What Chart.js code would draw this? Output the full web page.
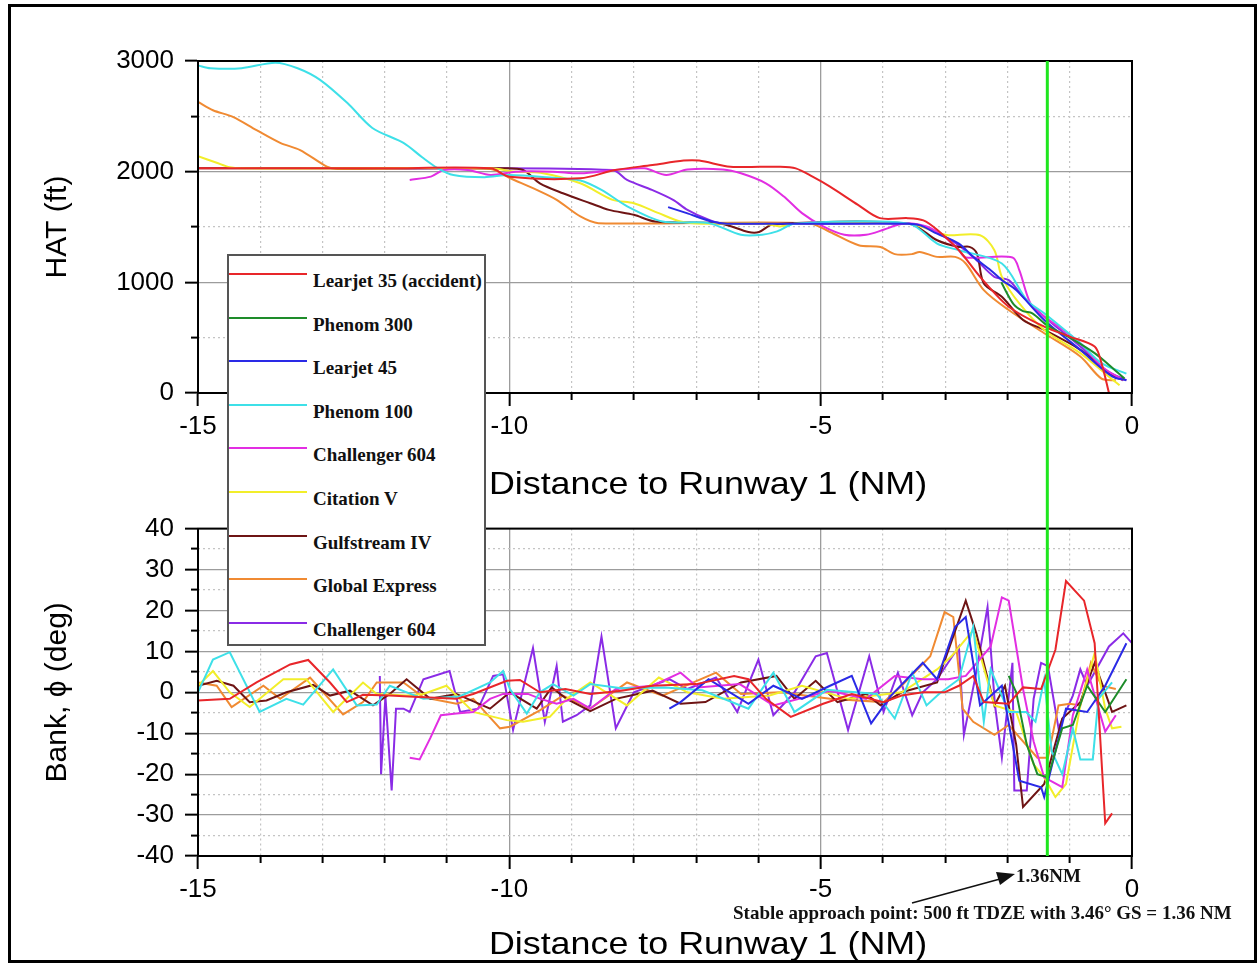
<!DOCTYPE html>
<html>
<head>
<meta charset="utf-8">
<title>HAT and bank angle vs distance to Runway 1</title>
<script src="https://cdn.jsdelivr.net/npm/chart.js@4.4.1/dist/chart.umd.min.js"></script>
<style>
  html, body { margin: 0; padding: 0; background: #fff; }
  #page { position: relative; width: 1260px; height: 966px; overflow: hidden; background: #fff; }
  #frame { position: absolute; left: 8px; top: 4px; width: 1249px; height: 959px; border: 3px solid #000; box-sizing: border-box; pointer-events: none; }
  canvas { position: absolute; left: 0; }
  #hat-chart { top: 0; }
  #bank-chart { top: 502px; }
  #legend { position: absolute; left: 227px; top: 254px; width: 259px; height: 392px; background: #fff; border: 2px solid #555; box-sizing: border-box; }
  .legend-line { position: absolute; left: 0; width: 78px; height: 0; border-top: 2px solid; }
  .legend-text { position: absolute; left: 84px; height: 22px; line-height: 22px; font: bold 19px "Liberation Serif", "Times New Roman", serif; color: #111; white-space: nowrap; }
  .note { position: absolute; font: bold 19px "Liberation Serif", "Times New Roman", serif; color: #111; white-space: nowrap; line-height: 20px; }
  .x-title { position: absolute; left: 358px; width: 700px; text-align: center; font: 32px "Liberation Sans", Arial, sans-serif; line-height: 36px; color: #000; transform: scaleX(1.12); white-space: nowrap; }
  #arrow { position: absolute; left: 0; top: 0; }
</style>
</head>
<body>
<div id="page">
  <canvas id="hat-chart" width="1260" height="502"></canvas>
  <canvas id="bank-chart" width="1260" height="464"></canvas>
  <div class="x-title" style="top:465px;">Distance to Runway 1 (NM)</div>
  <div class="x-title" style="top:925px;">Distance to Runway 1 (NM)</div>
  <div id="legend"></div>
  <svg id="arrow" width="1260" height="966">
    <line x1="912" y1="903" x2="1000" y2="879" stroke="#111" stroke-width="1.5"></line>
    <polygon points="1015,874 996,872 1000,885" fill="#111"></polygon>
  </svg>
  <div class="note" style="left:1016px; top:866px;">1.36NM</div>
  <div class="note" style="left:733px; top:903px;">Stable approach point: 500 ft TDZE with 3.46° GS = 1.36 NM</div>
  <div id="frame"></div>
</div>

<script>
// Series names and colours (legend order)
const seriesNames = ['Learjet 35 (accident)', 'Phenom 300', 'Learjet 45', 'Phenom 100',
    'Challenger 604', 'Citation V', 'Gulfstream IV', 'Global Express', 'Challenger 604'];
const seriesColors = ['#e8262a', '#1e8c2a', '#2a2ae6', '#3ee0e8',
    '#e22ee2', '#f2ee2a', '#6e1414', '#f08a32', '#8a2be6'];

// Stable approach point (NM before threshold)
const stableApproachNM = -1.36;

// HAT (ft) vs distance (NM)
const hatLearjet35 = [[-15,2030],[-12,2030],[-10.3,2030],[-10,1955],[-8.86,1940],[-8.3,2015],[-7.7,2060],[-7.2,2100],[-6.95,2100],[-6.45,2045],[-5.65,2045],[-5.4,2030],[-5.13,1955],[-4.85,1865],[-4.4,1700],[-4.05,1580],[-3.6,1580],[-3.35,1560],[-3.13,1475],[-2.78,1290],[-2.44,1050],[-1.98,780],[-1.41,600],[-1.0,510],[-0.6,420],[-0.49,270],[-0.37,0]];
const hatPhenom300 = [[-2.1,1000],[-1.9,800],[-1.75,740],[-1.6,720],[-1.36,610],[-1.0,500],[-0.6,360],[-0.3,220],[-0.12,130]];
const hatLearjet45 = [[-7.45,1680],[-7.15,1625],[-6.75,1550],[-6.5,1530],[-3.6,1530],[-3.4,1515],[-3.13,1440],[-2.78,1350],[-2.55,1230],[-2.27,1110],[-2.09,1020],[-1.86,930],[-1.41,660],[-0.83,390],[-0.32,150],[-0.09,115]];
const hatPhenom100 = [[-15,2960],[-14.8,2935],[-14.3,2935],[-13.76,2985],[-13.4,2935],[-13.04,2830],[-12.6,2620],[-12.2,2395],[-11.7,2260],[-11.4,2130],[-11.16,2035],[-10.9,1970],[-10.4,1950],[-10,1970],[-9.3,1945],[-8.86,1920],[-8.52,1835],[-8.1,1685],[-7.54,1550],[-6.8,1535],[-6.28,1430],[-5.94,1430],[-5.7,1460],[-5.42,1530],[-3.58,1530],[-3.13,1350],[-2.78,1290],[-2.09,1170],[-1.69,840],[-1.41,720],[-0.83,450],[-0.49,270],[-0.09,175]];
const hatChallenger604a = [[-11.6,1925],[-11.26,1955],[-11.05,2015],[-10.67,2015],[-10.3,1970],[-9.9,2000],[-9.3,2000],[-8.86,1985],[-8.3,2015],[-7.83,2030],[-7.48,1970],[-7.14,2020],[-6.57,2020],[-6.28,1985],[-5.88,1895],[-5.59,1775],[-5.3,1625],[-4.96,1505],[-4.62,1430],[-4.27,1430],[-3.99,1475],[-3.76,1520],[-3.58,1535],[-3.3,1505],[-3.01,1410],[-2.78,1290],[-2.67,1225],[-1.92,1225],[-1.81,1110],[-1.63,810],[-1.41,690],[-1.18,600],[-0.83,450],[-0.49,240],[-0.14,115]];
const hatCitationV = [[-15,2140],[-14.7,2080],[-14.49,2040],[-14.3,2030],[-10.3,2030],[-9.9,2000],[-9.5,1990],[-8.86,1895],[-8.34,1745],[-8.0,1715],[-7.6,1625],[-7.25,1550],[-6.9,1530],[-5.9,1530],[-5.65,1505],[-5.42,1530],[-3.58,1530],[-3.07,1440],[-2.95,1425],[-2.44,1425],[-2.21,1290],[-2.09,1050],[-1.81,810],[-1.41,570],[-0.83,360],[-0.43,175],[-0.2,70]];
const hatGulfstreamIV = [[-15,2030],[-10.1,2030],[-9.78,2015],[-9.51,1895],[-9.14,1805],[-8.7,1715],[-8.4,1655],[-8.0,1610],[-7.66,1550],[-6.6,1530],[-6.16,1455],[-5.99,1455],[-5.76,1525],[-3.58,1530],[-3.13,1380],[-2.78,1320],[-2.61,1320],[-2.49,1260],[-2.38,990],[-2.09,870],[-1.75,660],[-1.41,570],[-0.83,390],[-0.37,175],[-0.14,115]];
const hatGlobalExpress = [[-15,2630],[-14.76,2555],[-14.44,2495],[-14.06,2375],[-13.68,2260],[-13.36,2195],[-12.93,2045],[-12.77,2025],[-10.3,2025],[-10,1945],[-9.56,1835],[-9.24,1745],[-8.86,1595],[-8.57,1535],[-5.19,1535],[-4.85,1455],[-4.39,1335],[-4.04,1320],[-3.81,1255],[-3.53,1255],[-3.41,1275],[-3.13,1230],[-2.84,1230],[-2.67,1170],[-2.38,930],[-1.98,750],[-1.41,540],[-0.83,330],[-0.49,130],[-0.26,115]];
const hatChallenger604b = [[-12.0,2030],[-8.34,2015],[-8.11,1925],[-7.71,1835],[-7.37,1745],[-7.14,1655],[-6.8,1565],[-6.57,1530],[-3.58,1530],[-3.35,1505],[-2.9,1380],[-2.55,1230],[-2.21,1050],[-1.98,1020],[-1.75,870],[-1.41,690],[-0.83,420],[-0.43,210],[-0.09,115]];

// Bank angle (deg) vs distance (NM)
const bankLearjet35 = [[-15,-2],[-14.49,-1.6],[-14.06,2.4],[-13.52,6.8],[-13.23,7.9],[-12.88,2.4],[-12.61,-2.4],[-12.35,-0.6],[-11.92,-0.8],[-11.38,-1.2],[-10.85,-1.6],[-10.58,-0.4],[-10.04,2.8],[-9.83,3.0],[-9.51,0],[-9.1,0.8],[-8.7,-0.4],[-8.2,0.4],[-7.71,1.6],[-7.0,2.0],[-6.39,4.0],[-6.16,3.2],[-5.88,-1.6],[-5.48,-6.0],[-4.96,-2.8],[-4.5,-0.4],[-3.99,-2.4],[-3.7,-0.8],[-3.36,0],[-3.01,0],[-2.78,1.6],[-2.55,4.0],[-2.38,-2.4],[-1.98,-2.8],[-1.75,1.2],[-1.46,0.8],[-1.23,10.4],[-1.06,27.2],[-0.77,22.4],[-0.6,12.0],[-0.43,-32.0],[-0.32,-29.6]];
const bankPhenom300 = [[-1.98,4.0],[-1.86,0],[-1.69,-12.8],[-1.52,-20],[-1.35,-20.8],[-1.12,-8.8],[-0.95,-8.0],[-0.72,1.6],[-0.43,-4.8],[-0.09,3.2]];
const bankLearjet45 = [[-7.43,-4.0],[-7.25,-2.4],[-6.8,3.2],[-6.16,-2.8],[-5.76,1.6],[-5.3,-1.6],[-4.85,1.6],[-4.5,4.0],[-4.19,-7.6],[-3.87,-0.8],[-3.36,7.2],[-3.13,3.2],[-2.84,16.0],[-2.67,18.4],[-2.44,-3.2],[-2.09,1.6],[-1.81,-21.6],[-1.46,-23.2],[-1.41,-25.6],[-1.23,-14.4],[-1.06,-4.0],[-0.72,-4.8],[-0.43,1.6],[-0.09,12.0]];
const bankPhenom100 = [[-15,0],[-14.76,8],[-14.49,9.8],[-14.01,-4.8],[-13.58,-1.6],[-13.31,-3.0],[-12.83,5.6],[-12.45,-3.2],[-12.13,-3.0],[-11.92,1.6],[-11.38,-1.6],[-10.8,-1.0],[-10.31,2.4],[-10.1,5.2],[-9.99,0.8],[-9.72,-5.2],[-9.51,0],[-9.3,2],[-8.97,-0.8],[-8.7,2],[-8.2,1.0],[-7.5,1.2],[-6.9,0.5],[-6.16,-4.0],[-5.76,4.8],[-5.42,-4.8],[-4.9,0.6],[-4.1,-0.4],[-3.81,-6.4],[-3.53,4.8],[-3.3,-3.2],[-3.1,-0.4],[-2.78,3.2],[-2.55,16.0],[-2.38,-7.2],[-2.27,5.6],[-1.98,-4.8],[-1.7,-4.8],[-1.55,-7.2],[-1.41,3.2],[-1.29,-14.4],[-1.12,-20],[-0.95,-8.8],[-0.83,-16.4],[-0.63,-16.4],[-0.54,-1.6],[-0.32,2.4]];
const bankChallenger604a = [[-11.6,-16.0],[-11.44,-16.4],[-11.27,-11.2],[-11.1,-5.6],[-10.85,-5.2],[-10.58,-4.8],[-10.31,-1.6],[-10.1,-0.4],[-9.7,-0.4],[-9.5,-1.6],[-9.24,-2.8],[-8.97,-1.6],[-8.7,-4.0],[-8.29,0.8],[-7.7,1.6],[-7.25,4.8],[-6.97,1.2],[-6.3,2.0],[-5.76,-3.2],[-4.85,0.4],[-4.27,-1.6],[-3.81,4.0],[-3.36,3.2],[-2.95,3.2],[-2.67,4.0],[-2.27,11.2],[-2.09,23.2],[-1.98,22.4],[-1.75,0.8],[-1.58,-12.0],[-1.41,-20.8],[-1.12,-23.2],[-0.95,-5.6],[-0.72,5.6],[-0.43,-9.6],[-0.26,-5.6]];
const bankCitationV = [[-15,1.6],[-14.76,5.2],[-14.49,0],[-14.17,-3.6],[-13.63,3.2],[-13.26,3.2],[-12.83,-4.8],[-12.35,2.4],[-12.13,-0.4],[-11.65,-0.8],[-11.38,-0.4],[-11.01,1.6],[-10.58,-4.8],[-10.04,-6.8],[-9.78,-7.2],[-9.35,-6.0],[-9.08,-1.6],[-8.7,2.4],[-8.11,-3.2],[-7.6,3.6],[-7.14,0],[-6.57,-1.6],[-5.82,-0.8],[-5.3,1.6],[-4.56,-1.6],[-3.7,0],[-3.13,5.6],[-2.9,8.8],[-2.55,15.2],[-2.21,-3.2],[-1.86,-4.8],[-1.58,-17.6],[-1.41,-20.8],[-1.23,-25.6],[-1.06,-22.4],[-0.83,-3.2],[-0.6,9.6],[-0.43,-4.0],[-0.32,-8.8],[-0.17,-8.4]];
const bankGulfstreamIV = [[-15,1.6],[-14.7,2.8],[-14.43,1.6],[-14.17,-2.4],[-13.9,-2.0],[-13.58,0],[-13.15,1.8],[-12.88,-0.8],[-12.56,0.4],[-12.19,-3.2],[-11.92,-0.4],[-11.65,3.2],[-11.27,-1.6],[-10.85,-0.4],[-10.31,-4.0],[-9.99,0],[-9.56,-4.0],[-9.32,1.2],[-9.08,-1.6],[-8.7,-4.6],[-8.29,-1.6],[-7.7,0.4],[-7.25,-2.8],[-6.85,-2.4],[-6.28,2.4],[-5.71,4.0],[-5.42,-1.6],[-5.08,2.8],[-4.73,-2.4],[-4.27,-0.4],[-4.04,-3.2],[-3.7,0],[-3.13,2.4],[-2.67,22.4],[-2.5,14.4],[-2.21,-3.2],[-2.04,1.6],[-1.86,-12.8],[-1.75,-28.0],[-1.41,-22.4],[-1.12,-6.4],[-0.83,-2.4],[-0.6,7.2],[-0.32,-4.8],[-0.09,-3.2]];
const bankGlobalExpress = [[-15,2.4],[-14.7,1.6],[-14.46,-3.6],[-13.95,1.6],[-13.68,-1.6],[-13.2,3.6],[-12.67,-5.4],[-12.35,-2.4],[-12.13,2.4],[-11.7,2.4],[-11.38,-1.2],[-10.85,-2.8],[-10.58,-1.6],[-10.15,-8.8],[-9.99,-8.4],[-9.51,-4.4],[-9.14,-0.8],[-8.7,-4.0],[-8.11,2.4],[-7.54,-0.8],[-6.68,4.8],[-6.28,-0.4],[-5.65,0.0],[-4.85,-1.6],[-3.99,-2.4],[-3.7,1.6],[-3.24,8.8],[-3.01,19.6],[-2.87,18.4],[-2.72,-4.0],[-2.55,-7.2],[-2.21,-10.4],[-1.98,-8.0],[-1.52,-16.0],[-1.35,-16.0],[-1.18,-3.2],[-1.0,-2.8],[-0.83,-3.2],[-0.66,7.2],[-0.49,1.6],[-0.26,0.8]];
const bankChallenger604b = [[-12.08,4.0],[-12.06,-20],[-11.99,-1],[-11.89,-24],[-11.82,-4.0],[-11.7,-4.0],[-11.6,-4.8],[-11.38,3.2],[-10.96,5.2],[-10.79,-4.8],[-10.5,-4.0],[-10.26,4.0],[-10.1,4.4],[-9.94,-9.2],[-9.62,10.8],[-9.43,-7.2],[-9.24,6.4],[-9.14,-7.2],[-8.92,-5.6],[-8.7,-3.2],[-8.52,13.6],[-8.29,-8.8],[-8.0,0],[-7.43,3.2],[-7.14,0.8],[-6.68,3.6],[-6.34,-4.8],[-6.0,8.0],[-5.76,-5.6],[-5.42,0],[-5.08,8.8],[-4.9,9.6],[-4.56,-9.2],[-4.22,8.8],[-3.99,-4.8],[-3.76,4.8],[-3.53,-5.6],[-3.36,0],[-3.13,3.2],[-2.78,11.2],[-2.7,-10.4],[-2.5,5],[-2.32,20.8],[-2.2,-3.2],[-2.09,-16.0],[-1.92,7.2],[-1.89,-24.0],[-1.69,-24.0],[-1.58,-1.6],[-1.46,7.2],[-1.35,6.4],[-1.18,-8.8],[-0.95,-0.8],[-0.83,5.6],[-0.72,1.6],[-0.37,11.2],[-0.14,14.4],[0,12.0]];

const hatSeries = [hatLearjet35, hatPhenom300, hatLearjet45, hatPhenom100, hatChallenger604a,
    hatCitationV, hatGulfstreamIV, hatGlobalExpress, hatChallenger604b];
const bankSeries = [bankLearjet35, bankPhenom300, bankLearjet45, bankPhenom100, bankChallenger604a,
    bankCitationV, bankGulfstreamIV, bankGlobalExpress, bankChallenger604b];

const fontSans = '"Liberation Sans", Arial, sans-serif';

// Build Chart.js datasets from the point lists
function makeDatasets(seriesList, tension) {
    return seriesList.map((points, i) => ({
        label: seriesNames[i],
        data: points.map(p => ({ x: p[0], y: p[1] })),
        borderColor: seriesColors[i],
        borderWidth: 2,
        pointRadius: 0,
        tension: tension,
        xAxisID: 'x',
        yAxisID: 'y'
    }));
}

// Main axes (solid grid at majors) plus hidden "minor" axes for dotted grid + short ticks
function makeScales(yMin, yMax, yStep, yMinorStep, yTitle, xAxisHeight) {
    const dotted = '#c4c4c4';
    return {
        x: {
            type: 'linear', axis: 'x', position: 'bottom', min: -15, max: 0,
            ticks: { stepSize: 5, color: '#000', padding: 5, maxRotation: 0, font: { family: fontSans, size: 26 },
                callback: v => String(v) },
            grid: { color: '#9c9c9c', lineWidth: 1.3, tickLength: 13, tickColor: '#000', tickWidth: 2 },
            border: { color: '#000', width: 2 },
            title: { display: false },
            afterFit: scale => { scale.height = xAxisHeight; }
        },
        xMinor: {
            type: 'linear', axis: 'x', position: 'bottom', weight: -1, min: -15, max: 0,
            ticks: { stepSize: 1, display: false },
            grid: {
                color: c => (c.tick && c.tick.value % 5 === 0) ? 'rgba(0,0,0,0)' : dotted,
                tickColor: c => (c.tick && c.tick.value % 5 === 0) ? 'rgba(0,0,0,0)' : '#000',
                lineWidth: 1.2, tickLength: 7, tickWidth: 2
            },
            border: { display: false, dash: [2, 3] },
            afterFit: scale => { scale.height = 0; }
        },
        y: {
            type: 'linear', axis: 'y', position: 'left', min: yMin, max: yMax,
            ticks: { stepSize: yStep, color: '#000', padding: 11, font: { family: fontSans, size: 26 },
                callback: v => String(v) },
            grid: { color: '#9c9c9c', lineWidth: 1.3, tickLength: 13, tickColor: '#000', tickWidth: 2 },
            border: { color: '#000', width: 2 },
            title: { display: true, text: yTitle, color: '#000', padding: 0, font: { family: fontSans, size: 30 } },
            afterFit: scale => { scale.width = 158; }
        },
        yMinor: {
            type: 'linear', axis: 'y', position: 'left', weight: -1, min: yMin, max: yMax,
            ticks: { stepSize: yMinorStep, display: false },
            grid: {
                color: c => (c.tick && c.tick.value % yStep === 0) ? 'rgba(0,0,0,0)' : dotted,
                tickColor: c => (c.tick && c.tick.value % yStep === 0) ? 'rgba(0,0,0,0)' : '#000',
                lineWidth: 1.2, tickLength: 7, tickWidth: 2
            },
            border: { display: false, dash: [2, 3] },
            afterFit: scale => { scale.width = 0; }
        }
    };
}

// Black frame round the plot area
const plotFrame = {
    id: 'plotFrame',
    afterDatasetsDraw(chart) {
        const { ctx, chartArea: a } = chart;
        ctx.save();
        ctx.strokeStyle = '#000';
        ctx.lineWidth = 2;
        ctx.strokeRect(a.left, a.top, a.right - a.left, a.bottom - a.top);
        ctx.restore();
    }
};

// Green vertical line at the stable approach point, runs through both panels
const stableLine = {
    id: 'stableLine',
    afterDraw(chart, args, opts) {
        const x = chart.scales.x.getPixelForValue(stableApproachNM);
        const ctx = chart.ctx;
        ctx.save();
        ctx.strokeStyle = '#1ee61e';
        ctx.lineWidth = 3;
        ctx.beginPath();
        ctx.moveTo(x, opts.toCanvasTop ? 0 : chart.chartArea.top);
        ctx.lineTo(x, opts.toCanvasBottom ? chart.height : chart.chartArea.bottom);
        ctx.stroke();
        ctx.restore();
    }
};

const hatChart = new Chart(document.getElementById('hat-chart'), {
    type: 'line',
    data: { datasets: makeDatasets(hatSeries, 0.3) },
    options: {
        responsive: false,
        animation: false,
        layout: { padding: { left: 40, right: 128, top: 61, bottom: 0 } },
        scales: makeScales(0, 3000, 1000, 500, 'HAT (ft)', 109),
        plugins: {
            legend: { display: false },
            tooltip: { enabled: false },
            stableLine: { toCanvasTop: false, toCanvasBottom: true }
        }
    },
    plugins: [plotFrame, stableLine]
});

const bankChart = new Chart(document.getElementById('bank-chart'), {
    type: 'line',
    data: { datasets: makeDatasets(bankSeries, 0) },
    options: {
        responsive: false,
        animation: false,
        layout: { padding: { left: 40, right: 128, top: 21, bottom: 4 } },
        scales: makeScales(-40, 40, 10, 5, 'Bank, \u03D5 (deg)', 106),
        plugins: {
            legend: { display: false },
            tooltip: { enabled: false },
            stableLine: { toCanvasTop: true, toCanvasBottom: false }
        }
    },
    plugins: [plotFrame, stableLine]
});

// HTML legend built from the datasets
const legendEl = document.getElementById('legend');
hatChart.data.datasets.forEach((ds, i) => {
    const centerY = 25 + i * 43.6;
    const line = document.createElement('div');
    line.className = 'legend-line';
    line.style.top = (centerY - 8) + 'px';
    line.style.borderTopColor = ds.borderColor;
    const text = document.createElement('div');
    text.className = 'legend-text';
    text.style.top = (centerY - 11) + 'px';
    text.textContent = ds.label;
    legendEl.appendChild(line);
    legendEl.appendChild(text);
});
</script>
</body>
</html>
